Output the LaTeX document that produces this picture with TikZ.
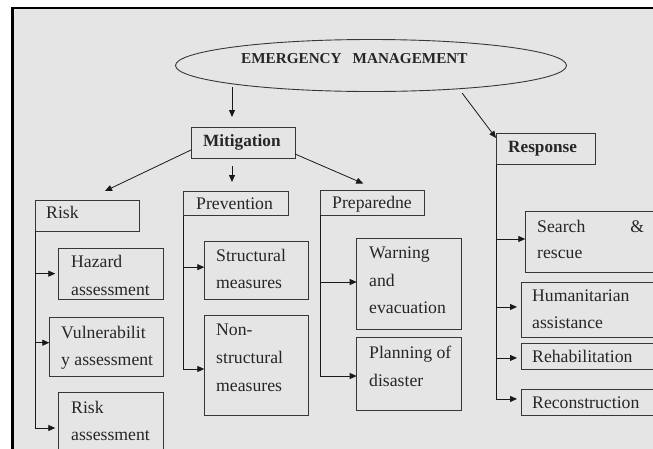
\documentclass[tikz,border=0pt]{standalone}
\usepackage{fontspec}
\setmainfont{Liberation Serif}
\usetikzlibrary{arrows.meta,shapes.geometric}
\definecolor{bg}{RGB}{229,229,229}
\definecolor{edge}{RGB}{55,55,55}
\newcommand\mybox[5]{\node[box, minimum width={(#4)-(#2)}, minimum height={(#5)-(#3)}] (#1) at ({((#2)+(#4))/2},{((#3)+(#5))/2}) {};}
\newcommand\mytl[4]{\node[txt] (#1) at (#2,#3) {#4};}
\begin{document}
\begin{tikzpicture}[x=1pt,y=-1pt,
  box/.style={draw=edge, line width=0.9pt, inner sep=0pt, outer sep=0pt, rectangle},
  txt/.style={anchor=base west, inner sep=0pt, font=\fontsize{17.7}{20}\selectfont, text=black!85},
  btxt/.style={anchor=base west, inner sep=0pt, font=\bfseries\fontsize{17.2}{20}\selectfont, text=black!85},
  arr/.style={draw=black!90, line width=0.8pt, -{Triangle[length=7pt,width=6pt]}}]
\useasboundingbox (0,0) rectangle (653,448);
\fill[white] (0,0) rectangle (653,448);
\clip (0,0) rectangle (653,448);
\draw[line width=2.6pt, fill=bg] (12.2,8) rectangle (720,520);

% ellipse
\node[draw=edge, line width=0.9pt, ellipse, minimum width=391pt, minimum height=52pt, inner sep=0pt] (em) at (371,65.5) {};
\node[anchor=base west, inner sep=0pt, font=\bfseries\fontsize{15.2}{18}\selectfont, text=black!85] (emt) at (241,63) {EMERGENCY\hspace{11pt}MANAGEMENT};

% level 1
\mybox{mit}{191}{127}{295}{158}
\node[btxt] (mitt) at (203,146) {Mitigation};
\mybox{resp}{496}{133}{595}{164.5}
\node[btxt] (respt) at (508,152) {Response};

% level 2
\mybox{risk}{35}{200}{139}{231}
\mytl{riskt}{46}{218}{Risk}
\mybox{prev}{183}{191}{288}{215.5}
\mytl{prevt}{196}{209}{Prevention}
\mybox{prep}{320.5}{190.5}{424}{215}
\mytl{prept}{332}{208}{Preparedne}

% risk column
\mybox{hazard}{58.3}{248}{163.3}{299.3}
\mytl{hz1}{71}{267}{Hazard}
\begin{scope}
\clip (hazard.north west) rectangle ([yshift=3pt]hazard.south east);
\mytl{hz2}{71}{295.5}{assessment}
\end{scope}
\mybox{vuln}{49.3}{317.7}{163}{376.7}
\mytl{vu1}{61}{338}{Vulnerabilit}
\mytl{vu2}{61}{365}{y assessment}
\mybox{riska}{58.3}{392.7}{163.3}{463.3}
\mytl{ra1}{71}{413}{Risk}
\mytl{ra2}{71}{440}{assessment}

% prevention column
\mybox{struct}{204.3}{241}{308.7}{299.3}
\mytl{st1}{216}{261}{Structural}
\mytl{st2}{216}{288}{measures}
\mybox{nonst}{204.3}{315}{308.7}{415}
\mytl{ns1}{216}{335}{Non-}
\mytl{ns2}{216}{363}{structural}
\mytl{ns3}{216}{391}{measures}

% preparedness column
\mybox{warn}{356.7}{238.3}{461.3}{329.3}
\mytl{wa1}{369}{258}{Warning}
\mytl{wa2}{369}{286}{and}
\mytl{wa3}{369}{313}{evacuation}
\mybox{plan}{356.7}{337.7}{461.3}{410.7}
\mytl{pl1}{369}{358}{Planning of}
\mytl{pl2}{369}{386}{disaster}

% response column
\mybox{search}{525.3}{211.3}{720}{272.3}
\mytl{se1}{537}{232}{\hbox to 107pt{Search\hfill\&}}
\mytl{se2}{537}{258}{rescue}
\mybox{human}{521}{282}{720}{337.7}
\mytl{hu1}{532}{301}{Humanitarian}
\mytl{hu2}{532}{328}{assistance}
\mybox{rehab}{521}{343.3}{720}{369}
\mytl{rh1}{532}{362}{Rehabilitation}
\mybox{recon}{521}{389.3}{720}{415}
\mytl{rc1}{532}{408}{Reconstruction}

% main arrows
\coordinate (mtop) at ([xshift=-11pt]mit.north);
\coordinate (emb) at (232,87);
\draw[arr, shorten >=10pt] (emb) -- (mtop);
\draw[arr, shorten <=5pt] (em.345) -- ([yshift=-5pt]resp.north west);
\draw[arr] ([yshift=8pt]mit.south west) -- ([xshift=18pt,yshift=9pt]risk.north);
\coordinate (mp) at ([xshift=-11pt]mit.south);
\draw[arr, shorten <=8pt, shorten >=9pt] (mp) -- (mp |- prev.north);
\draw[arr] ([yshift=4pt]mit.south east) -- ([xshift=-9pt,yshift=7pt]prep.north);

% column connectors
\draw[arr, shorten >=3pt] (risk.south west) |- (hazard.west);
\draw[arr] (risk.south west) |- ([yshift=4.5pt]vuln.west);
\draw[arr, shorten >=3pt] (risk.south west) |- (riska.west);
\draw[arr] (prev.south west) |- ([yshift=3pt]struct.west);
\draw[arr] (prev.south west) |- ([yshift=-4pt]nonst.west);
\draw[arr] (prep.south west) |- ([yshift=1.8pt]warn.west);
\draw[arr] (prep.south west) |- ([yshift=-1.8pt]plan.west);
\draw[arr] (resp.south west) |- ([yshift=2.8pt]search.west);
\draw[arr, shorten >=4pt] (resp.south west) |- ([yshift=2.9pt]human.west);
\draw[arr, shorten >=4pt] (resp.south west) |- ([yshift=-1.8pt]rehab.west);
\draw[arr, shorten >=4pt] (resp.south west) |- ([yshift=3.2pt]recon.west);
\end{tikzpicture}
\end{document}
